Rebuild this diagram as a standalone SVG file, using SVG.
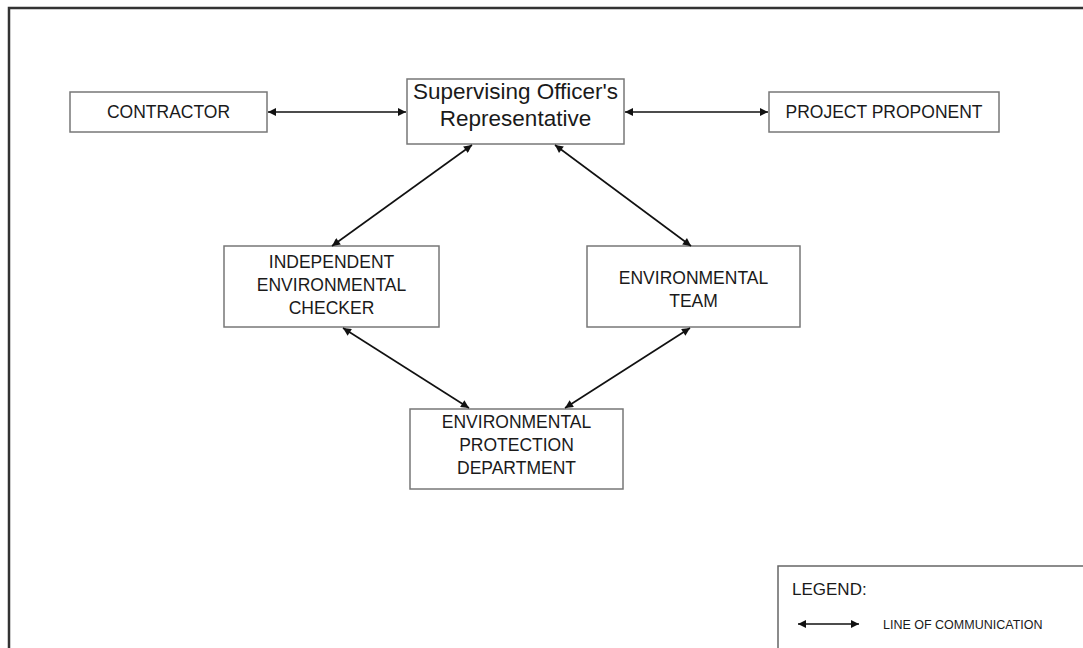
<svg xmlns="http://www.w3.org/2000/svg" width="1083" height="648" viewBox="0 0 1083 648">
<defs>
<marker id="ah" viewBox="0 0 10 10" refX="10" refY="5" markerWidth="11" markerHeight="8" markerUnits="userSpaceOnUse" orient="auto-start-reverse">
<path d="M0,0 L10,5 L0,10 z" fill="#111"/>
</marker>
<style>
.box{fill:#fff;stroke:#777;stroke-width:1.5}
.t{font-family:"Liberation Sans",Arial,sans-serif;fill:#1a1a1a;text-anchor:middle}
.c{font-size:17.5px}
.big{font-size:22.5px}
.ln{stroke:#111;stroke-width:1.6;fill:none;marker-start:url(#ah);marker-end:url(#ah)}
</style>
</defs>
<rect width="1083" height="648" fill="#fff"/>
<rect x="9" y="8" width="1090" height="660" fill="none" stroke="#333" stroke-width="2.5"/>
<g id="contractor">
<rect class="box" x="70" y="92" width="197" height="40"/>
<text class="t c" x="168.5" y="118">CONTRACTOR</text>
</g>
<g id="sor">
<rect class="box" x="407" y="79" width="217" height="65"/>
<text class="t big" x="515.5" y="99">Supervising Officer's</text>
<text class="t big" x="515.5" y="126">Representative</text>
</g>
<g id="proponent">
<rect class="box" x="769" y="92" width="230" height="40"/>
<text class="t c" x="884" y="118">PROJECT PROPONENT</text>
</g>
<g id="iec">
<rect class="box" x="224" y="246" width="215" height="81"/>
<text class="t c" x="331.5" y="268">INDEPENDENT</text>
<text class="t c" x="331.5" y="291">ENVIRONMENTAL</text>
<text class="t c" x="331.5" y="314">CHECKER</text>
</g>
<g id="et">
<rect class="box" x="587" y="246" width="213" height="81"/>
<text class="t c" x="693.5" y="284">ENVIRONMENTAL</text>
<text class="t c" x="693.5" y="307">TEAM</text>
</g>
<g id="epd">
<rect class="box" x="410" y="409" width="213" height="80"/>
<text class="t c" x="516.5" y="428">ENVIRONMENTAL</text>
<text class="t c" x="516.5" y="451">PROTECTION</text>
<text class="t c" x="516.5" y="474">DEPARTMENT</text>
</g>
<g id="connectors">
<line class="ln" x1="268" y1="112" x2="406" y2="112"/>
<line class="ln" x1="625" y1="112" x2="768" y2="112"/>
<line class="ln" x1="472" y1="145" x2="332" y2="246"/>
<line class="ln" x1="555" y1="145" x2="691" y2="246"/>
<line class="ln" x1="343" y1="328" x2="469" y2="408"/>
<line class="ln" x1="690" y1="328" x2="565" y2="408"/>
</g>
<g id="legend">
<rect x="778" y="566" width="320" height="100" fill="#fff" stroke="#666" stroke-width="1.5"/>
<text class="t" x="792" y="595" style="font-size:17px;text-anchor:start">LEGEND:</text>
<line class="ln" x1="798" y1="624" x2="859" y2="624"/>
<text class="t" x="883" y="628.5" style="font-size:12.5px;text-anchor:start">LINE OF COMMUNICATION</text>
</g>
</svg>
